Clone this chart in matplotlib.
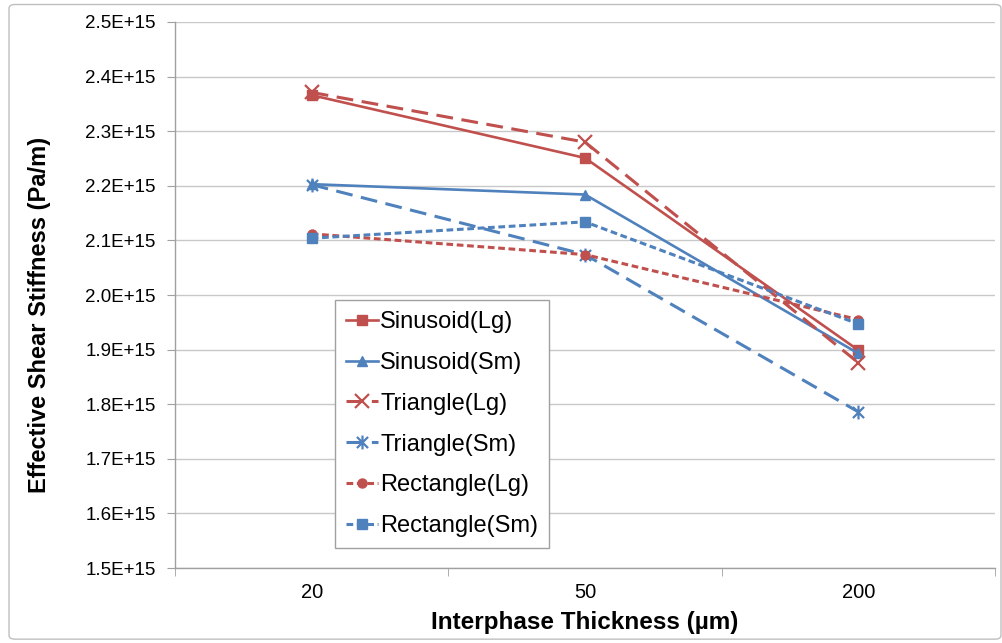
import matplotlib
matplotlib.use("Agg")
import matplotlib.pyplot as plt
from matplotlib.path import Path
from matplotlib.patches import FancyBboxPatch

plt.rcParams['font.family'] = ['Liberation Sans', 'DejaVu Sans']

thickness = ["20", "50", "200"]
sinusoid_lg = [2.366e15, 2.251e15, 1.899e15]
sinusoid_sm = [2.203e15, 2.184e15, 1.893e15]
triangle_lg = [2.371e15, 2.280e15, 1.876e15]
triangle_sm = [2.202e15, 2.074e15, 1.786e15]
rectangle_lg = [2.112e15, 2.074e15, 1.955e15]
rectangle_sm = [2.104e15, 2.134e15, 1.947e15]
y_ticks = [1.5e15, 1.6e15, 1.7e15, 1.8e15, 1.9e15, 2.0e15, 2.1e15, 2.2e15, 2.3e15, 2.4e15, 2.5e15]

RED = "#C0504D"
BLUE = "#4F81BD"

# asterisk marker: an x with a vertical bar through it
star = Path([(-1, -1), (1, 1), (-1, 1), (1, -1), (0, -1.25), (0, 1.25)],
            [Path.MOVETO, Path.LINETO, Path.MOVETO, Path.LINETO, Path.MOVETO, Path.LINETO])

fig = plt.figure(figsize=(10.02, 6.43), dpi=100)
fig.patches.append(FancyBboxPatch((0.009, 0.006), 0.99, 0.987,
                                  boxstyle="round,pad=0,rounding_size=0.006",
                                  transform=fig.transFigure, fill=False,
                                  edgecolor="#bfbfbf", linewidth=1.0))

ax = fig.add_axes([0.1747, 0.1166, 0.8183, 0.8492])
x = list(range(len(thickness)))

long_dash = (0, (5.5, 2.8))
short_dash = (0, (2.2, 1.2))

ax.plot(x, sinusoid_lg, color=RED, lw=1.9, marker='s', ms=6.5, label="Sinusoid(Lg)")
ax.plot(x, sinusoid_sm, color=BLUE, lw=1.9, marker='^', ms=6.5, label="Sinusoid(Sm)")
ax.plot(x, triangle_lg, color=RED, lw=2.2, ls=long_dash, marker='x', ms=10, mew=1.6,
        label="Triangle(Lg)")
ax.plot(x, triangle_sm, color=BLUE, lw=2.2, ls=long_dash, marker=star, ms=10, mew=1.6,
        mfc='none', label="Triangle(Sm)")
ax.plot(x, rectangle_lg, color=RED, lw=2.2, ls=short_dash, marker='o', ms=6.5,
        label="Rectangle(Lg)")
ax.plot(x, rectangle_sm, color=BLUE, lw=2.2, ls=short_dash, marker='s', ms=6.5,
        label="Rectangle(Sm)")

ax.set_xlim(-0.5, 2.5)
ax.set_ylim(1.5e15, 2.5e15)
ax.set_yticks(y_ticks)
ax.set_yticklabels([f"{v/1e15:.1f}E+15" for v in y_ticks], fontsize=13.5)
ax.set_xticks(x)
ax.set_xticklabels(thickness, fontsize=14.5)
ax.tick_params(axis='x', length=0, pad=11)
ax.set_xticks([-0.5, 0.5, 1.5, 2.5], minor=True)
ax.tick_params(axis='x', which='minor', length=6, color="#a0a0a0", direction='out')
ax.tick_params(axis='y', length=6, color="#a0a0a0", direction='out', pad=8)

ax.grid(axis='y', color="#c8c8c8", lw=1.0)
ax.set_axisbelow(True)
for side in ("top", "right"):
    ax.spines[side].set_visible(False)
for side in ("left", "bottom"):
    ax.spines[side].set_color("#a0a0a0")
    ax.spines[side].set_linewidth(1.0)

ax.set_xlabel("Interphase Thickness (µm)", fontsize=17.5, fontweight='bold', labelpad=6)
ax.set_ylabel("Effective Shear Stiffness (Pa/m)", fontsize=17, fontweight='bold')
ax.yaxis.set_label_coords(-0.151, 0.463)

leg = ax.legend(loc='lower left', bbox_to_anchor=(335 / 1002, 1 - 548 / 643),
                bbox_transform=fig.transFigure, fontsize=17, handlelength=1.35,
                handletextpad=0.12, borderpad=0.45, labelspacing=0.8,
                fancybox=False, framealpha=1, edgecolor="#a0a0a0", borderaxespad=0)
leg.get_frame().set_linewidth(1.0)

fig.savefig("out.png", dpi=100)
